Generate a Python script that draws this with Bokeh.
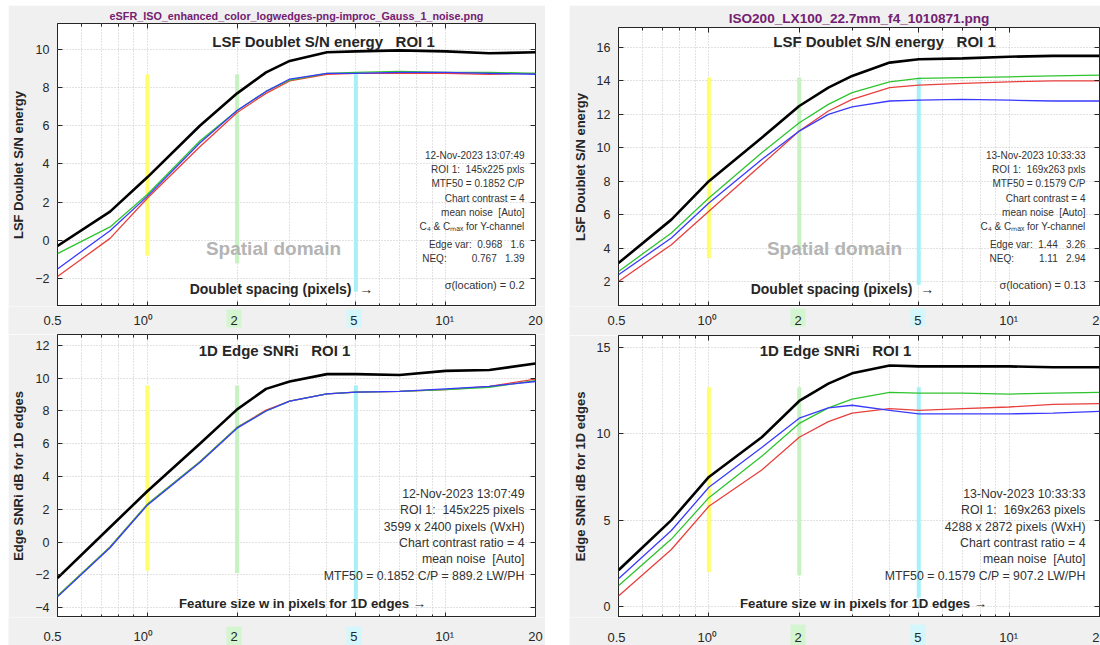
import math
from bokeh.plotting import figure
from bokeh.models import (Range1d, FixedTicker, CustomJSTickFormatter, LogAxis,
                          LinearAxis, Label, Spacer)
from bokeh.core.properties import value
from bokeh.layouts import row, column
from bokeh.embed import file_html
from bokeh.resources import INLINE

# ---------------- data ----------------
x_pts = [0.5, 0.75, 1, 1.5, 2, 2.5, 3, 4, 5, 7, 10, 14, 20]

# top-left: LSF Doublet S/N energy (eSFR ISO, Gauss 1 noise)
tl_black = [-0.3, 1.5, 3.3, 6.0, 7.7, 8.8, 9.4, 9.85, 9.9, 9.95, 9.9, 9.8, 9.85]
tl_red = [-1.9, 0.1, 2.2, 4.9, 6.7, 7.7, 8.35, 8.7, 8.75, 8.75, 8.75, 8.7, 8.75]
tl_green = [-0.7, 0.7, 2.4, 5.2, 6.8, 7.8, 8.4, 8.75, 8.8, 8.85, 8.8, 8.8, 8.75]
tl_blue = [-1.5, 0.5, 2.3, 5.1, 6.8, 7.8, 8.45, 8.75, 8.75, 8.8, 8.8, 8.75, 8.7]

# top-right: LSF Doublet S/N energy (ISO200 LX100)
tr_black = [3.1, 5.7, 8.0, 10.6, 12.5, 13.6, 14.3, 15.1, 15.3, 15.35, 15.45, 15.5, 15.5]
tr_red = [2.0, 4.2, 6.2, 9.0, 11.0, 12.2, 12.9, 13.6, 13.75, 13.85, 13.95, 14.0, 14.0]
tr_green = [2.6, 4.9, 7.0, 9.7, 11.5, 12.6, 13.3, 13.95, 14.15, 14.2, 14.25, 14.3, 14.35]
tr_blue = [2.4, 4.6, 6.7, 9.3, 11.0, 12.0, 12.45, 12.8, 12.85, 12.9, 12.85, 12.8, 12.8]

# bottom-left: 1D Edge SNRi
bl_black = [-2.2, 0.9, 3.1, 6.0, 8.1, 9.35, 9.8, 10.25, 10.25, 10.2, 10.45, 10.5, 10.9]
bl_red = [-3.3, -0.3, 2.3, 4.9, 7.0, 8.05, 8.6, 9.05, 9.15, 9.2, 9.3, 9.5, 9.95]
bl_green = [-3.3, -0.3, 2.3, 4.9, 7.0, 8.0, 8.6, 9.05, 9.15, 9.2, 9.3, 9.45, 9.85]
bl_blue = [-3.35, -0.35, 2.25, 4.85, 6.95, 8.0, 8.6, 9.05, 9.15, 9.2, 9.35, 9.5, 9.8]

# bottom-right: 1D Edge SNRi
br_black = [2.1, 5.0, 7.5, 9.8, 11.9, 12.9, 13.5, 13.95, 13.9, 13.9, 13.9, 13.85, 13.85]
br_red = [0.6, 3.3, 5.8, 7.9, 9.8, 10.7, 11.2, 11.45, 11.35, 11.45, 11.55, 11.7, 11.75]
br_green = [1.2, 3.9, 6.3, 8.7, 10.6, 11.5, 12.0, 12.4, 12.35, 12.35, 12.3, 12.35, 12.4]
br_blue = [1.6, 4.4, 6.9, 9.2, 10.9, 11.5, 11.65, 11.35, 11.15, 11.15, 11.15, 11.2, 11.3]

# marker bands at 1, 2, 5 pixels
band_x = [1, 2, 5]
tl_band_lo = [-0.8, -1.2, -2.7]
tl_band_hi = [8.7, 8.7, 8.7]
tr_band_lo = [3.4, 3.8, 1.8]
tr_band_hi = [14.2, 14.2, 14.2]
bl_band_lo = [-1.75, -1.9, -3.5]
bl_band_hi = [9.55, 9.55, 9.55]
br_band_lo = [2.0, 1.8, 0.5]
br_band_hi = [12.7, 12.7, 12.7]

# axes
x_ticks = [0.5, 1, 2, 5, 10, 20]
x_tick_labels = ["0.5", "10⁰", "2", "5", "10¹", "20"]
x_minor = [0.6, 0.7, 0.8, 0.9, 3, 4, 6, 7, 8, 9]
hl_ticks = [2, 5]
tl_yticks = [-2, 0, 2, 4, 6, 8, 10]
tr_yticks = [2, 4, 6, 8, 10, 12, 14, 16]
bl_yticks = [-4, -2, 0, 2, 4, 6, 8, 10, 12]
br_yticks = [0, 5, 10, 15]

S = "\u00a0"  # non-collapsing space
# texts
tl_info = ["12-Nov-2023 13:07:49", f"ROI 1:{S}{S}145x225 pxls", "MTF50 = 0.1852 C/P",
           "Chart contrast = 4", f"mean noise{S}{S}[Auto]", "C₄ & Cₘₐₓ for Y-channel",
           f"Edge var:{S}{S}0.968{S}{S}{S}1.6", f"NEQ:{S*9}0.767{S}{S}{S}1.39"]
tr_info = ["13-Nov-2023 10:33:33", f"ROI 1:{S}{S}169x263 pxls", "MTF50 = 0.1579 C/P",
           "Chart contrast = 4", f"mean noise{S}{S}[Auto]", "C₄ & Cₘₐₓ for Y-channel",
           f"Edge var:{S}{S}1.44{S}{S}{S}3.26", f"NEQ:{S*9}1.11{S}{S}{S}2.94"]
bl_info = ["12-Nov-2023 13:07:49", f"ROI 1:{S}{S}145x225 pixels", "3599 x 2400 pixels (WxH)",
           "Chart contrast ratio = 4", f"mean noise{S}{S}[Auto]",
           "MTF50 = 0.1852 C/P = 889.2 LW/PH"]
br_info = ["13-Nov-2023 10:33:33", f"ROI 1:{S}{S}169x263 pixels", "4288 x 2872 pixels (WxH)",
           "Chart contrast ratio = 4", f"mean noise{S}{S}[Auto]",
           "MTF50 = 0.1579 C/P = 907.2 LW/PH"]
lsf_title = f"LSF Doublet S/N energy{S}{S}{S}ROI 1"
snr_title = f"1D Edge SNRi{S}{S}{S}ROI 1"

FONT = "Liberation Sans"
GRAY = "#f0f0f0"
INK = "#262626"
GRID = "#c4c4c4"
PURPLE = "#742070"
LINE_COLORS = {"red": "#e8403c", "green": "#2ec42e", "blue": "#3a3aff", "black": "#000000"}
BAND_COLORS = ["#ffff6e", "#c6f2c2", "#a6f0f6"]
HL_COLORS = ["#d3f5cf", "#d3f7fa"]
X0, X1 = 0.5, 20
INFO_Y = [151, 137, 123, 108.5, 94.5, 80.5, 62, 48]
INFO2_Y = [124, 107.5, 91, 75, 58.5, 42]


def make_panel(width, height, borders, yr, yticks, curves, band_lo, band_hi,
               file_title, file_size, ylabel):
    bl, br, bt, bb = borders
    p = figure(width=width, height=height, x_axis_type="log",
               x_range=Range1d(X0, X1), y_range=Range1d(*yr),
               output_backend="svg", toolbar_location=None,
               min_border_left=bl, min_border_right=br,
               min_border_top=bt, min_border_bottom=bb)
    p.border_fill_color = GRAY
    p.background_fill_color = "white"
    p.outline_line_color = INK
    p.outline_line_width = 1

    xt = FixedTicker(ticks=x_ticks, minor_ticks=x_minor)
    yt = FixedTicker(ticks=yticks)
    blank = CustomJSTickFormatter(code="return '';")

    xa = p.xaxis[0]
    xa.ticker = xt
    xa.formatter = blank
    xa.major_label_standoff = 0
    xa.major_label_text_font_size = "0px"
    ya = p.yaxis[0]
    ya.ticker = yt
    for ax in (xa, ya):
        ax.axis_line_color = None
        ax.major_tick_in = 5
        ax.major_tick_out = 0
        ax.minor_tick_in = 3
        ax.minor_tick_out = 0
        ax.major_tick_line_color = INK
        ax.minor_tick_line_color = INK
    ya.major_label_text_font = FONT
    ya.major_label_text_font_size = "12.5px"
    ya.major_label_text_color = INK
    ya.major_label_standoff = 8
    ya.axis_label = ylabel
    ya.axis_label_text_font = FONT
    ya.axis_label_text_font_style = "bold"
    ya.axis_label_text_font_size = "13px"
    ya.axis_label_text_color = INK
    ya.axis_label_standoff = 6

    top = LogAxis(ticker=xt, formatter=blank, axis_line_color=None,
                  major_tick_in=5, major_tick_out=0, minor_tick_in=3, minor_tick_out=0,
                  major_tick_line_color=INK, minor_tick_line_color=INK,
                  major_label_standoff=0, major_label_text_font_size="0px")
    right = LinearAxis(ticker=yt, formatter=blank, axis_line_color=None,
                       major_tick_in=5, major_tick_out=0, minor_tick_line_color=None,
                       major_tick_line_color=INK,
                       major_label_standoff=0, major_label_text_font_size="0px")
    p.add_layout(top, "above")
    p.add_layout(right, "right")

    p.xgrid.ticker = xt
    p.ygrid.ticker = yt
    for g in (p.xgrid, p.ygrid):
        g.grid_line_color = GRID
        g.grid_line_dash = "1 2"
    p.xgrid.minor_grid_line_color = GRID
    p.xgrid.minor_grid_line_dash = "1 2"

    if file_title:
        p.title.text = file_title
        p.title.align = "center"
        p.title.text_font = FONT
        p.title.text_font_size = f"{file_size}px"
        p.title.text_font_style = "bold"
        p.title.text_color = PURPLE
        p.title.standoff = 3

    p.segment(x0=band_x, y0=band_lo, x1=band_x, y1=band_hi,
              line_color=BAND_COLORS, line_width=4)
    for name in ("red", "green", "blue"):
        p.line(x_pts, curves[name], line_color=LINE_COLORS[name], line_width=1.3)
    p.line(x_pts, curves["black"], line_color="black", line_width=2.6)
    return p


def make_strip(width, height, bl, br, label_y, box_y, box_h):
    # tick-label strip under a panel; its x scale lines up with the panel frame
    span = math.log10(X1 / X0)
    per_px = span / (width - bl - br)
    start = 10 ** (math.log10(X0) - bl * per_px)
    end = 10 ** (math.log10(X1) + br * per_px)
    s = figure(width=width, height=height, x_axis_type="log",
               x_range=Range1d(start, end), y_range=Range1d(0, height),
               x_axis_location=None, y_axis_location=None,
               output_backend="svg", toolbar_location=None,
               min_border_left=0, min_border_right=0, min_border_top=0, min_border_bottom=0)
    s.frame_align = False
    s.border_fill_color = GRAY
    s.background_fill_color = GRAY
    s.outline_line_color = None
    s.grid.visible = False
    s.rect(x=hl_ticks, y=[box_y] * len(hl_ticks), width=15, height=box_h,
           width_units="screen", height_units="data",
           fill_color=HL_COLORS, line_color=None)
    s.text(x=x_ticks, y=[label_y] * len(x_ticks), text=x_tick_labels,
           text_align="center", text_baseline="middle",
           text_font=value(FONT), text_font_size=value("13px"),
           text_color=INK)
    return s


def add_text(p, txt, x, y, size, bold=False, align="center", color=INK):
    p.add_layout(Label(x=x, y=y, x_units="screen", y_units="screen", text=txt,
                       text_align=align, text_baseline="middle", text_font=FONT,
                       text_font_size=f"{size}px",
                       text_font_style="bold" if bold else "normal",
                       text_color=color))


LB = (44, 10)   # left panels: border left / right
RB = (47, 1)    # right panels

tl = make_panel(537, 301, (*LB, 18, 0), (-3.47, 11.36), tl_yticks,
                dict(black=tl_black, red=tl_red, green=tl_green, blue=tl_blue),
                tl_band_lo, tl_band_hi,
                "eSFR_ISO_enhanced_color_logwedges-png-improc_Gauss_1_noise.png", 10.8,
                "LSF Doublet S/N energy")
tl_s = make_strip(537, 28, *LB, 14, 16, 18)
bl = make_panel(537, 283, (*LB, 0, 0), (-4.61, 12.67), bl_yticks,
                dict(black=bl_black, red=bl_red, green=bl_green, blue=bl_blue),
                bl_band_lo, bl_band_hi, "", 10, "Edge SNRi dB for 1D edges")
bl_s = make_strip(537, 28, *LB, 9, 9.5, 19)

tr = make_panel(531, 301, (*RB, 22, 0), (0.5, 17.2), tr_yticks,
                dict(black=tr_black, red=tr_red, green=tr_green, blue=tr_blue),
                tr_band_lo, tr_band_hi, "ISO200_LX100_22.7mm_f4_1010871.png", 13.6,
                "LSF Doublet S/N energy")
tr_s = make_strip(531, 29, *RB, 15, 18, 18)
br = make_panel(531, 282, (*RB, 0, 0), (-0.64, 15.69), br_yticks,
                dict(black=br_black, red=br_red, green=br_green, blue=br_blue),
                br_band_lo, br_band_hi, "", 13, "Edge SNRi dB for 1D edges")
br_s = make_strip(531, 28, *RB, 8.5, 10.5, 21)

# top panels' texts
for p, info, sigma in ((tl, tl_info, "σ(location) = 0.2"), (tr, tr_info, "σ(location) = 0.13")):
    add_text(p, lsf_title, 266, 265, 15, bold=True)
    add_text(p, "Spatial domain", 216, 58, 19, bold=True, color="#b4b4b4")
    add_text(p, f"Doublet spacing (pixels){S}{S}→", 224, 18, 14, bold=True)
    for txt, yy in zip(info, INFO_Y):
        add_text(p, txt, 467, yy, 10, align="right", color="#333333")
    add_text(p, sigma, 467, 22, 11, align="right", color="#333333")

# bottom panels' texts
for p, info in ((bl, bl_info), (br, br_info)):
    add_text(p, snr_title, 217, 267, 15, bold=True)
    for txt, yy in zip(info, INFO2_Y):
        add_text(p, txt, 467, yy, 12.3, align="right", color="#333333")
    add_text(p, "Feature size w in pixels for 1D edges →", 245, 14, 13.2, bold=True)

layout = column(Spacer(height=5),
                row(Spacer(width=8), column(tl, tl_s, bl, bl_s),
                    Spacer(width=24), column(tr, tr_s, br, br_s)))

open("out.html", "w").write(file_html(layout, INLINE))
